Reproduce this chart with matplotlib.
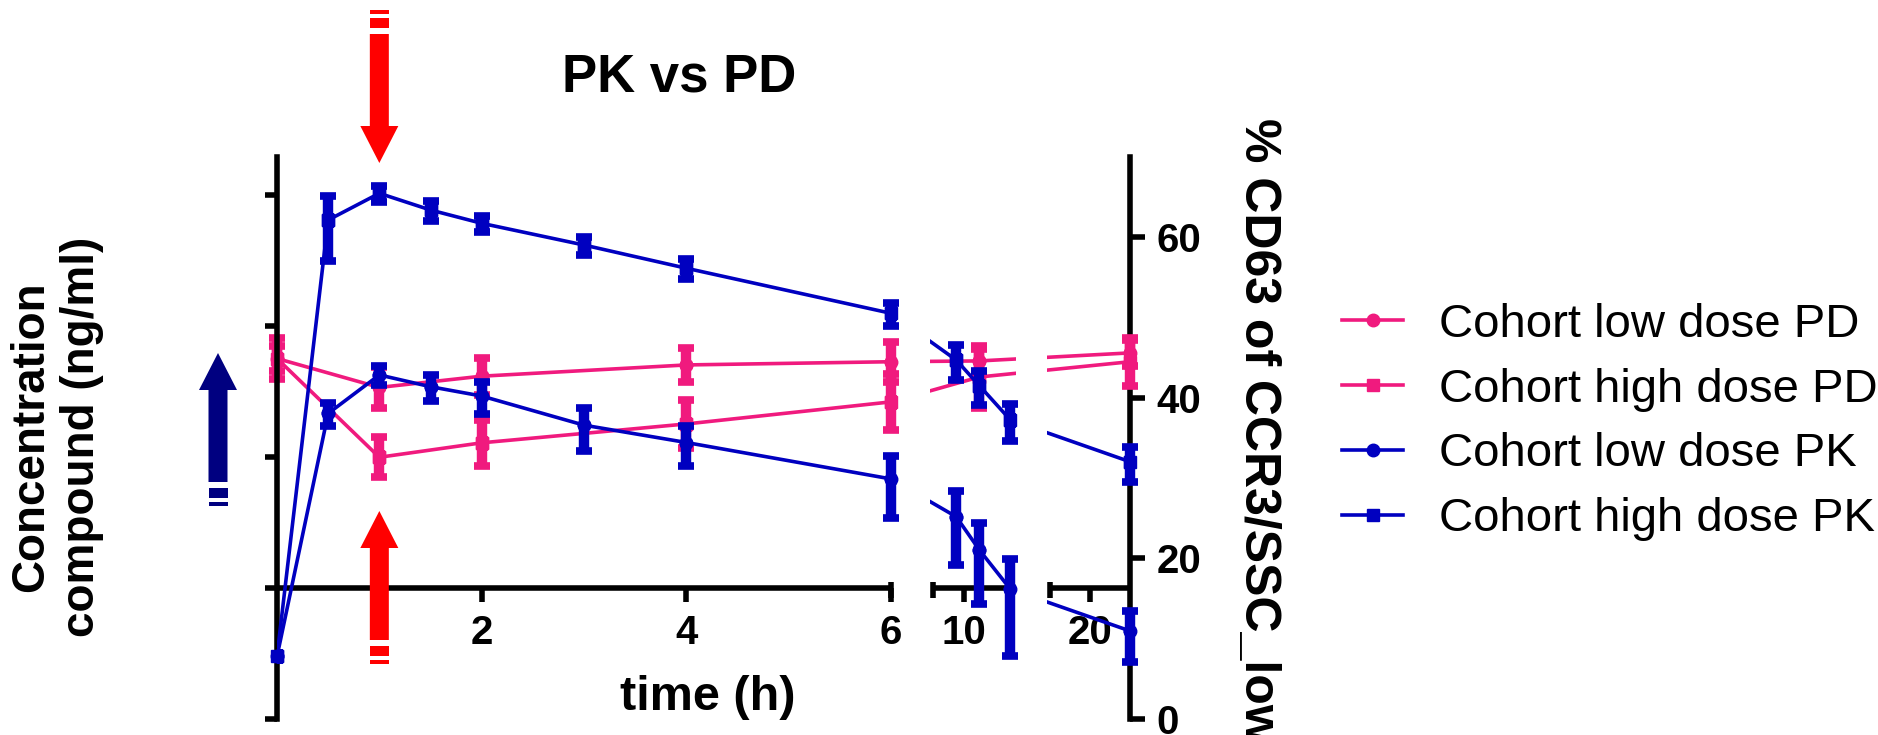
import numpy as np
import matplotlib.pyplot as plt
from matplotlib.patches import Polygon
from matplotlib.path import Path
from matplotlib.transforms import IdentityTransform
from matplotlib.ticker import NullLocator

plt.rcParams['font.family'] = ['Liberation Sans', 'DejaVu Sans']
plt.rcParams['font.weight'] = 'bold'

# sampling times (h)
pk_times = [0, 0.5, 1, 1.5, 2, 3, 4, 6, 9.5, 11, 13, 24]
pd_times = [0, 1, 2, 4, 6, 11, 24]

# PK concentration (ng/ml, log axis): mean and SD
pk_low = [0.30, 21.5, 42.3, 34.4, 29.2, 17.5, 12.9, 6.8, 3.5, 1.95, 0.98, 0.47]
pk_low_sd = [0, 4.2, 7.0, 7.5, 8.0, 6.3, 4.3, 3.4, 2.0, 1.2, 0.68, 0.2]
pk_high = [0.30, 644, 1030, 768, 608, 415, 276, 125, 55, 35, 19.2, 9.2]
pk_high_sd = [0, 330, 150, 135, 88, 65, 46, 25, 16, 10, 6, 2.8]

# PD: % CD63 of CCR3/SSC_low, mean and SD
pd_low = [44.9, 41.3, 42.7, 44.1, 44.5, 44.6, 45.6]
pd_low_sd = [1.6, 2.6, 2.3, 2.1, 2.5, 1.5, 1.6]
pd_high = [44.9, 32.6, 34.4, 36.75, 39.5, 42.6, 44.5]
pd_high_sd = [2.6, 2.5, 2.9, 3.0, 3.5, 3.9, 3.0]

labels = ['Cohort low dose PD', 'Cohort high dose PD',
          'Cohort low dose PK', 'Cohort high dose PK']
x_ticks = [2, 4, 6, 10, 20]
x_ticklabels = ['2', '4', '6', '10', '20']
pd_ticks = [0, 20, 40, 60]
pk_ticks = [0.1, 1, 10, 100, 1000]
dose_time = 1

PINK = '#F01A7E'
BLUE = '#0000C0'

W, H = 1878, 735

# broken time axis (Prism style): time breakpoints -> pixel positions
T_BRK = [0, 6, 8, 13.3, 16, 24]
U_BRK = [277, 891, 933, 1015, 1050, 1130]
VISIBLE = [(-1, 6.3), (7.85, 13.37), (15.8, 25)]   # lines hidden in between
SEG_LINES = [(0, 6), (8, 13.1), (16, 24)]
SEG_CAPS = [6, 8, 16]


def fwd(t):
    t = np.asarray(t, dtype=float)
    s0 = (U_BRK[1] - U_BRK[0]) / (T_BRK[1] - T_BRK[0])
    s1 = (U_BRK[-1] - U_BRK[-2]) / (T_BRK[-1] - T_BRK[-2])
    return np.where(t < T_BRK[0], U_BRK[0] + (t - T_BRK[0]) * s0,
                    np.where(t > T_BRK[-1], U_BRK[-1] + (t - T_BRK[-1]) * s1,
                             np.interp(t, T_BRK, U_BRK)))


def inv(u):
    u = np.asarray(u, dtype=float)
    s0 = (T_BRK[1] - T_BRK[0]) / (U_BRK[1] - U_BRK[0])
    s1 = (T_BRK[-1] - T_BRK[-2]) / (U_BRK[-1] - U_BRK[-2])
    return np.where(u < U_BRK[0], T_BRK[0] + (u - U_BRK[0]) * s0,
                    np.where(u > U_BRK[-1], T_BRK[-1] + (u - U_BRK[-1]) * s1,
                             np.interp(u, U_BRK, T_BRK)))


def break_clip():
    verts, codes = [], []
    for a, b in VISIBLE:
        verts += [(a, -1), (b, -1), (b, 2), (a, 2), (a, -1)]
        codes += [Path.MOVETO, Path.LINETO, Path.LINETO, Path.LINETO, Path.CLOSEPOLY]
    return Path(verts, codes)


fig = plt.figure(figsize=(W / 100, H / 100), dpi=100)
x0, x1, y0, y1 = 277, 1130, 157, 719
ax_pd = fig.add_axes([x0 / W, 1 - y1 / H, (x1 - x0) / W, (y1 - y0) / H])
ax_pd.set_xscale('function', functions=(fwd, inv))
ax_pk = ax_pd.twinx()
ax_pk.set_yscale('log')

err = dict(elinewidth=7.5, capsize=6, capthick=5.5, fmt='none', zorder=2, clip_on=False)


def series(ax, t, v, sd, color, marker):
    t, v, sd = np.asarray(t), np.asarray(v), np.asarray(sd)
    ln, = ax.plot(t, v, color=color, lw=2.6, marker=marker, ms=9, zorder=1)
    ln.set_clip_path(break_clip(), transform=ax.get_xaxis_transform())
    ax.plot(t, v, ls='none', color=color, marker=marker, ms=9, zorder=1.2, clip_on=False)
    has_sd = sd > 0
    ax.errorbar(t[has_sd], v[has_sd], yerr=sd[has_sd], ecolor=color, **err)
    return ln


# PD on the right axis (drawn underneath), PK on the left log axis (on top)
ln_pd_low = series(ax_pd, pd_times, pd_low, pd_low_sd, PINK, 'o')
ln_pd_high = series(ax_pd, pd_times, pd_high, pd_high_sd, PINK, 's')
ln_pk_low = series(ax_pk, pk_times, pk_low, pk_low_sd, BLUE, 'o')
ln_pk_high = series(ax_pk, pk_times, pk_high, pk_high_sd, BLUE, 's')

ax_pd.set_xlim(0, 24)
ax_pd.set_ylim(0, 70)
ax_pk.set_ylim(10 ** -1.0, 10 ** 3.29)

# broken x axis drawn at PK = 1
for a, b in SEG_LINES:
    ax_pk.plot([a, b], [1, 1], color='k', lw=4, solid_capstyle='butt',
               clip_on=False, zorder=0.8)
for c in SEG_CAPS:
    ax_pk.plot([c, c], [0.84, 1.12], color='k', lw=4, solid_capstyle='butt',
               clip_on=False, zorder=0.8)

# spines / ticks
lims = np.log10(ax_pk.get_ylim())
frac = (0 - lims[0]) / (lims[1] - lims[0])
for s in ['left', 'top']:
    ax_pd.spines[s].set_visible(False)
ax_pd.spines['bottom'].set_position(('axes', frac))
ax_pd.spines['bottom'].set_visible(False)
ax_pd.spines['right'].set_linewidth(4)
ax_pd.spines['right'].set_zorder(0.5)
for s in ['right', 'top', 'bottom']:
    ax_pk.spines[s].set_visible(False)
ax_pk.spines['left'].set_linewidth(4)
ax_pk.spines['left'].set_zorder(0.5)

ax_pd.yaxis.tick_right()
ax_pk.yaxis.tick_left()
ax_pd.set_xticks(x_ticks)
ax_pd.set_xticklabels(x_ticklabels)
ax_pd.xaxis.set_minor_locator(NullLocator())
ax_pd.set_yticks(pd_ticks)
ax_pk.set_yticks(pk_ticks)
ax_pk.yaxis.set_minor_locator(NullLocator())
ax_pd.tick_params(axis='x', direction='out', length=10, width=4, pad=9, labelsize=29)
ax_pd.tick_params(axis='y', direction='out', length=11, width=4, pad=8, labelsize=29)
ax_pk.tick_params(axis='y', direction='out', length=9, width=4, labelleft=False)

# texts
fig.text(679 / W, 1 - 78 / H, 'PK vs PD', fontsize=38, ha='center', va='center')
fig.text(57 / W, 1 - 437 / H, 'Concentration\ncompound (ng/ml)', rotation=90,
         fontsize=33, ha='center', va='center', multialignment='center')
fig.text(708 / W, 1 - 698 / H, 'time (h)', fontsize=35, ha='center', va='center')
fig.text(1258 / W, 1 - 430 / H, '% CD63 of CCR3/SSC_low', rotation=270,
         fontsize=36, ha='center', va='center')

fig.legend([ln_pd_low, ln_pd_high, ln_pk_low, ln_pk_high], labels,
           loc='center left', bbox_to_anchor=(1342 / W, 1 - 422 / H),
           frameon=False, prop={'size': 34, 'weight': 'normal'},
           handlelength=1.3, handletextpad=0.75, labelspacing=0.44,
           borderpad=0, borderaxespad=0)


# dosing arrows with "broken" tails
def arrow(xc, tip_y, up, color):
    d = 1 if up else -1
    base = H - tip_y

    def y(s):
        return base - d * s

    verts = [(xc, y(0)), (xc + 19, y(37)), (xc + 9.5, y(37)), (xc + 9.5, y(129)),
             (xc - 9.5, y(129)), (xc - 9.5, y(37)), (xc - 19, y(37))]
    fig.add_artist(Polygon(verts, closed=True, fc=color, lw=0,
                           transform=IdentityTransform()))
    for s0, s1 in [(135, 145), (149, 153)]:
        fig.add_artist(Polygon([(xc - 9.5, y(s0)), (xc + 9.5, y(s0)),
                                (xc + 9.5, y(s1)), (xc - 9.5, y(s1))],
                               closed=True, fc=color, lw=0,
                               transform=IdentityTransform()))


xd = ax_pd.transData.transform((dose_time, 0))[0]
arrow(xd, 163, False, '#FF0000')
arrow(xd, 511, True, '#FF0000')
arrow(218, 353, True, '#000080')

fig.savefig('out.png', dpi=100)
